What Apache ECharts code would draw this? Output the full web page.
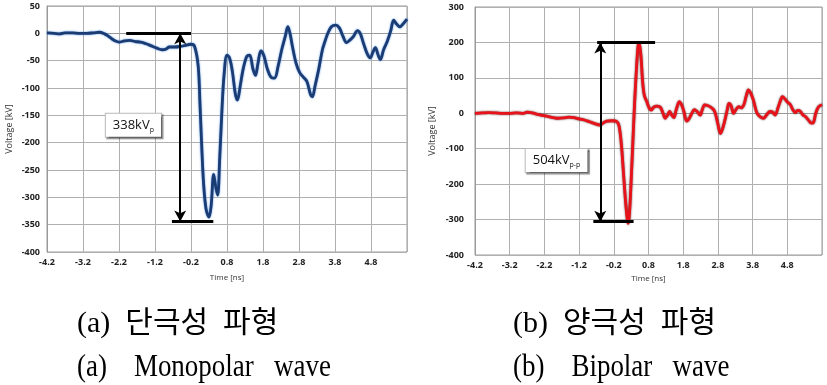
<!DOCTYPE html>
<html><head><meta charset="utf-8">
<script src="https://cdn.jsdelivr.net/npm/echarts@6/dist/echarts.min.js"></script>
<style>html,body{margin:0;padding:0;background:#fff}#c{width:827px;height:385px}</style>
</head><body><div id="c"></div>
<script>
// ---- Data (a) Monopolar wave ----
const timeA = [-4.2,-4.0,-3.85,-3.7,-3.5,-3.3,-3.1,-2.9,-2.75,-2.6,-2.5,-2.4,-2.3,-2.2,-2.05,-1.9,-1.75,-1.6,-1.45,-1.3,-1.15,-1.0,-0.9,-0.8,-0.65,-0.5,-0.35,-0.2,-0.1,0.0,0.05,0.1,0.15,0.22,0.3,0.36,0.43,0.49,0.54,0.6,0.66,0.72,0.8,0.87,0.95,1.03,1.09,1.17,1.25,1.35,1.43,1.52,1.59,1.66,1.74,1.82,1.92,2.02,2.12,2.22,2.32,2.42,2.49,2.55,2.62,2.72,2.82,2.92,3.02,3.12,3.17,3.25,3.35,3.45,3.52,3.6,3.7,3.82,3.92,4.02,4.12,4.22,4.32,4.42,4.5,4.6,4.7,4.78,4.85,4.92,5.0,5.06,5.15,5.25,5.35,5.43,5.5,5.6,5.7,5.8];
const voltA = [1,0,-1,1,1,0,0,1,2,-1,-5,-10,-14,-16,-14,-13,-15,-16,-19,-23,-27,-30,-29,-25,-25,-24,-22,-20,-24,-60,-130,-210,-275,-322,-336,-315,-258,-282,-296,-225,-140,-75,-40,-45,-70,-110,-122,-95,-65,-42,-40,-65,-77,-55,-32,-40,-65,-80,-82,-60,-30,-5,12,0,-25,-55,-72,-80,-88,-112,-116,-95,-65,-30,-15,0,12,15,10,-5,-17,-12,-5,5,0,-20,-38,-45,-35,-26,-40,-48,-30,-15,5,24,18,12,18,26];
// ---- Data (b) Bipolar wave ----
const timeB = [-4.2,-4.0,-3.8,-3.6,-3.4,-3.2,-3.0,-2.8,-2.7,-2.55,-2.4,-2.25,-2.1,-1.95,-1.8,-1.65,-1.5,-1.35,-1.2,-1.05,-0.9,-0.75,-0.6,-0.5,-0.4,-0.25,-0.12,-0.05,0.02,0.08,0.14,0.19,0.22,0.26,0.3,0.35,0.4,0.45,0.5,0.53,0.58,0.63,0.68,0.75,0.82,0.88,0.95,1.05,1.14,1.22,1.28,1.35,1.41,1.47,1.53,1.6,1.69,1.75,1.82,1.9,1.97,2.05,2.12,2.2,2.29,2.35,2.42,2.5,2.58,2.66,2.72,2.8,2.87,2.93,3.0,3.07,3.12,3.18,3.25,3.32,3.4,3.47,3.55,3.62,3.68,3.74,3.82,3.88,3.93,4.02,4.12,4.2,4.3,4.38,4.45,4.53,4.6,4.66,4.72,4.8,4.89,4.96,5.03,5.1,5.18,5.25,5.32,5.4,5.5,5.56,5.62,5.7,5.8];
const voltB = [0,1,2,1,0,0,1,0,3,1,-3,-6,-9,-12,-14,-13,-11,-12,-16,-19,-24,-29,-33,-27,-22,-21,-23,-35,-90,-170,-250,-300,-311,-270,-190,-80,30,120,190,198,165,90,50,33,15,9,17,20,17,0,-14,-5,5,-5,-12,10,33,25,5,-22,-15,0,10,5,-5,10,24,22,18,12,2,-30,-57,-45,-20,10,28,22,0,10,19,15,25,50,66,58,38,15,0,-10,-14,-5,5,3,-5,15,35,47,42,32,24,10,2,8,5,-5,-9,-18,-28,-25,0,18,24];
// ---- Axes / ticks ----
const xTickStart = -4.2, xTickEnd = 5.8;
const yTicksA = [-400, 50, 50];   // min, max, step
const yTicksB = [-400, 300, 100];
// ---- Annotations ----
const annoA = {label:'338kV', sub:'p', at:[-1.8,-168], top:[-2.0,-0.2,0], bottom:[-0.73,0.42,-344], arrowX:-0.5};
const annoB = {label:'504kV', sub:'p-p', at:[-1.85,-133], top:[-0.68,0.99,200], bottom:[-0.79,0.37,-306], arrowX:-0.59};
const captions = [
  ['(a)  단극성  파형', '(a)    Monopolar   wave'],
  ['(b)  양극성  파형', '(b)    Bipolar   wave']
];

const sh = t => +(t - xTickStart).toFixed(4);
const span = +(xTickEnd - xTickStart).toFixed(4);
const lblFont = {fontFamily:'Open Sans', fontSize:9, color:'#222', fontWeight:'bold'};

function xAxisOf(i, gap){
  return {gridIndex:i, type:'value', min:0, max:span, interval:1,
    axisLine:{show:true,lineStyle:{color:'#9a9a9a'}}, axisTick:{show:false},
    splitLine:{show:true,lineStyle:{color:'#b0b0b0',width:1}},
    axisLabel:Object.assign({margin:6, showMaxLabel:false,
      formatter:v => v >= span - 1e-6 ? '' : (v + xTickStart).toFixed(1)}, lblFont),
    name:'Time [ns]', nameLocation:'middle', nameGap:gap,
    nameTextStyle:{fontFamily:'Open Sans', fontSize:8, color:'#333'}};
}
function yAxisOf(i, t, gap, margin){
  return {gridIndex:i, type:'value', min:t[0], max:t[1], interval:t[2],
    axisLine:{show:true,lineStyle:{color:'#9a9a9a'}}, axisTick:{show:false},
    splitLine:{show:true,lineStyle:{color:'#b0b0b0',width:1}},
    axisLabel:Object.assign({margin:margin}, lblFont),
    name:'Voltage [kV]', nameLocation:'middle', nameGap:gap, nameRotate:90,
    nameTextStyle:{fontFamily:'Open Sans', fontSize:9, color:'#333'}};
}
function anno(a){
  return {
    markLine:{silent:true, animation:false, symbolSize:[9,11], label:{show:false},
      lineStyle:{color:'#000', type:'solid', width:3},
      data:[
        [{coord:[sh(a.top[0]),a.top[2]],symbol:'none'},{coord:[sh(a.top[1]),a.top[2]],symbol:'none'}],
        [{coord:[sh(a.bottom[0]),a.bottom[2]],symbol:'none'},{coord:[sh(a.bottom[1]),a.bottom[2]],symbol:'none'}],
        [{coord:[sh(a.arrowX),a.top[2]],symbol:'arrow',lineStyle:{width:2}},{coord:[sh(a.arrowX),a.bottom[2]],symbol:'arrow'}]
      ]},
    markPoint:{silent:true, animation:false, symbol:'rect', symbolSize:0,
      data:[{coord:[sh(a.at[0]),a.at[1]],
        label:{show:true, position:'inside', formatter:'{m|'+a.label+'}{s|'+a.sub+'}',
          backgroundColor:'#fff', borderColor:'#b8b8b8', borderWidth:1, padding:[3,7,3,7],
          shadowColor:'rgba(0,0,0,0.45)', shadowOffsetX:1.5, shadowOffsetY:1.5, shadowBlur:1,
          rich:{m:{fontFamily:'Open Sans', fontSize:13, color:'#111', lineHeight:17},
                s:{fontFamily:'Open Sans', fontSize:7, color:'#111', lineHeight:9, verticalAlign:'bottom'}}}}]}
  };
}

const chart = echarts.init(document.getElementById('c'), null, {renderer:'canvas'});
const capStyle1 = {font:'30px "Liberation Serif", "Noto Sans CJK KR"', fill:'#000', verticalAlign:'middle'};
const capStyle2 = {font:'31px "Liberation Serif"', fill:'#000', verticalAlign:'middle'};
chart.setOption({
  animation:false,
  backgroundColor:'#fff',
  grid:[
    {left:47, top:6, width:360, height:246, show:true, borderColor:'#9a9a9a', borderWidth:1},
    {left:475, top:7, width:347, height:248, show:true, borderColor:'#9a9a9a', borderWidth:1}
  ],
  xAxis:[xAxisOf(0,22), xAxisOf(1,20)],
  yAxis:[yAxisOf(0,yTicksA,33,7), yAxisOf(1,yTicksB,38,11)],
  series:[
    Object.assign({type:'line', xAxisIndex:0, yAxisIndex:0, showSymbol:false, smooth:0.35,
      data:timeA.map((t,i)=>[sh(t), voltA[i]]),
      lineStyle:{color:'#1b3b73', width:2.8, shadowColor:'#4f8fe0', shadowBlur:2}}, anno(annoA)),
    Object.assign({type:'line', xAxisIndex:1, yAxisIndex:1, showSymbol:false, smooth:0.35,
      data:timeB.map((t,i)=>[sh(t), voltB[i]]),
      lineStyle:{color:'#e8121a', width:2.8, shadowColor:'rgba(60,0,0,0.8)', shadowBlur:2}}, anno(annoB))
  ],
  graphic:[
    {type:'text', x:77, y:324, style:Object.assign({text:captions[0][0]}, capStyle1)},
    {type:'text', x:77, y:368, scaleX:0.87, style:Object.assign({text:captions[0][1]}, capStyle2)},
    {type:'text', x:513, y:324, style:Object.assign({text:captions[1][0]}, capStyle1)},
    {type:'text', x:513, y:368, scaleX:0.87, style:Object.assign({text:captions[1][1]}, capStyle2)}
  ]
});
</script></body></html>
